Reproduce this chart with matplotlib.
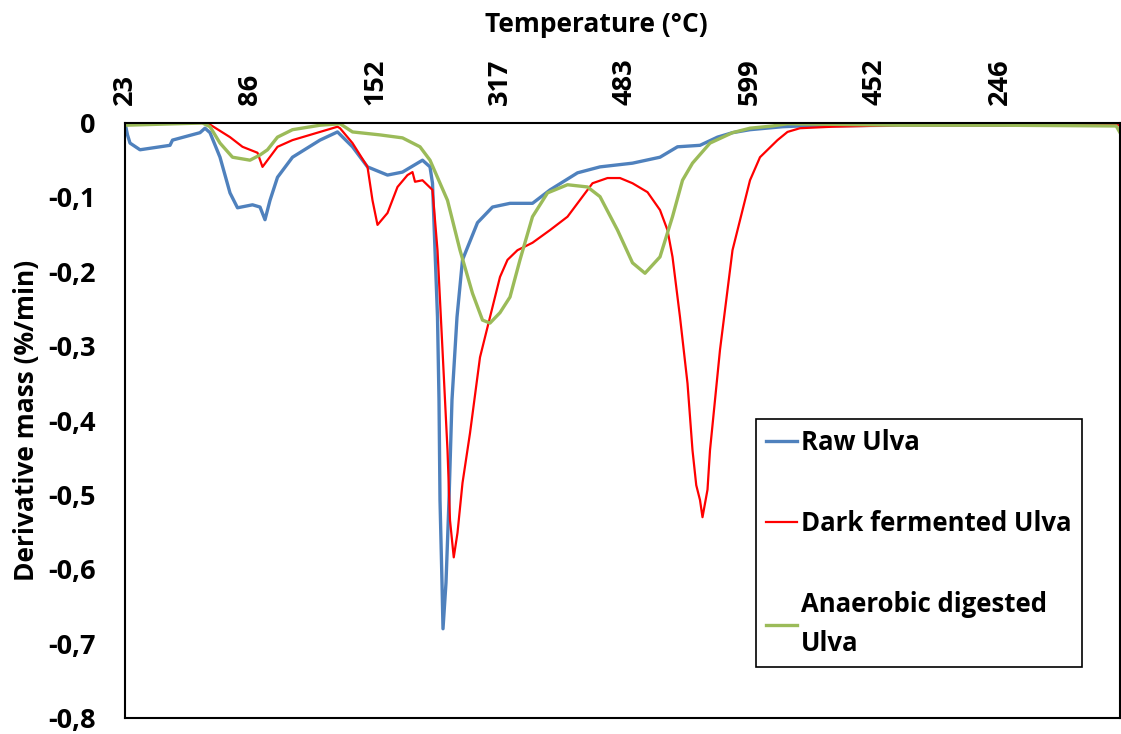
import numpy as np
import matplotlib.pyplot as plt
from matplotlib.ticker import FuncFormatter

# category axis: one reading every sample, a temperature label every 100 samples
tick_pos = [0, 100, 200, 300, 400, 500, 600, 700]
tick_labels = ['23', '86', '152', '317', '483', '599', '452', '246']

raw_x = [0, 2, 4, 12, 36, 38, 60, 64, 68, 76, 84, 90, 102, 108, 112, 116, 122, 134,
         156, 170, 182, 194, 210, 222, 238, 244, 246, 250, 251.2, 252, 253.6, 254.4,
         256.8, 259.2, 261.6, 265.6, 270, 282, 294, 308, 326, 340, 362, 380, 406, 428,
         442, 460, 474, 486, 500, 526, 540, 620, 700, 796]
raw_y = [0, -0.016, -0.027, -0.036, -0.030, -0.023, -0.013, -0.007, -0.013, -0.046,
         -0.094, -0.114, -0.110, -0.113, -0.130, -0.104, -0.073, -0.046, -0.023, -0.012,
         -0.032, -0.059, -0.070, -0.066, -0.050, -0.059, -0.081, -0.261, -0.372, -0.507,
         -0.618, -0.680, -0.618, -0.507, -0.372, -0.261, -0.184, -0.134, -0.113, -0.108,
         -0.108, -0.090, -0.067, -0.059, -0.054, -0.046, -0.032, -0.030, -0.019, -0.013,
         -0.009, -0.005, -0.004, -0.003, -0.003, -0.002]

dark_x = [0, 66, 84, 94, 106, 110, 114, 122, 134, 156, 170, 172, 182, 194, 198, 202,
          210, 218, 226, 230, 232, 238, 246, 250, 254, 258, 260, 263, 266, 270, 276,
          284, 292, 300, 306, 314, 326, 340, 354, 366, 374, 386, 396, 406, 418, 428,
          434, 438, 444, 450, 454, 457, 460, 462, 466, 468, 476, 486, 500, 508, 522,
          530, 540, 566, 620, 796]
dark_y = [0, 0, -0.019, -0.032, -0.040, -0.059, -0.050, -0.032, -0.023, -0.012, -0.005,
          -0.007, -0.027, -0.059, -0.104, -0.137, -0.121, -0.086, -0.070, -0.066, -0.079,
          -0.077, -0.090, -0.171, -0.305, -0.440, -0.534, -0.584, -0.551, -0.484, -0.417,
          -0.315, -0.261, -0.207, -0.184, -0.171, -0.161, -0.144, -0.126, -0.099, -0.081,
          -0.074, -0.074, -0.081, -0.093, -0.117, -0.144, -0.180, -0.261, -0.350, -0.440,
          -0.487, -0.507, -0.530, -0.493, -0.440, -0.305, -0.171, -0.077, -0.046, -0.023,
          -0.012, -0.007, -0.005, -0.003, -0.003]

ad_x = [0, 62, 68, 76, 86, 100, 108, 114, 122, 134, 156, 172, 182, 204, 222, 236, 244,
        258, 268, 278, 286, 292, 300, 308, 316, 326, 338, 354, 370, 380, 394, 406, 416,
        428, 438, 446, 454, 468, 486, 500, 518, 530, 620, 700, 793, 796]
ad_y = [-0.003, 0, -0.005, -0.027, -0.046, -0.050, -0.043, -0.036, -0.019, -0.009,
        -0.003, -0.001, -0.012, -0.016, -0.020, -0.032, -0.050, -0.104, -0.171, -0.229,
        -0.265, -0.269, -0.255, -0.234, -0.184, -0.126, -0.094, -0.083, -0.086, -0.099,
        -0.144, -0.188, -0.202, -0.180, -0.126, -0.077, -0.054, -0.027, -0.013, -0.007,
        -0.004, -0.001, -0.003, -0.003, -0.004, -0.013]

plt.rcParams['font.family'] = ['Open Sans', 'DejaVu Sans']
plt.rcParams['font.weight'] = 'bold'

fig = plt.figure(figsize=(11.21, 7.34), dpi=100)
ax = fig.add_axes([125/1121, 1-718/734, 995/1121, 595/734])

ax.plot(raw_x, raw_y, color='#4F81BD', lw=2.4, label='Raw Ulva')
ax.plot(dark_x, dark_y, color='#FF0000', lw=1.6, label='Dark fermented Ulva')
ax.plot(ad_x, ad_y, color='#9BBB59', lw=2.4, label='Anaerobic digested\nUlva')

ax.set_xlim(0, 796)
ax.set_ylim(-0.8, 0)
ax.set_yticks(np.arange(-0.8, 0.01, 0.1))
ax.yaxis.set_major_formatter(FuncFormatter(lambda v, p: ('%.1f' % v).replace('.', ',').replace('-0,0', '0')))

ax.xaxis.tick_top()
ax.set_xticks(tick_pos)
ax.set_xticklabels(tick_labels, rotation=90)
ax.tick_params(axis='x', length=0, pad=13, labelsize=19.5)
ax.tick_params(axis='y', length=0, pad=21, labelsize=19.5)
for s in ax.spines.values():
    s.set_linewidth(1.5)
    s.set_color('black')

ax.set_ylabel('Derivative mass (%/min)', fontsize=19, fontweight='bold', labelpad=6)
fig.text(596/1121, 1-25/734, 'Temperature (°C)', ha='center', va='center',
         fontsize=19, fontweight='bold')

leg = ax.legend(loc='upper left', bbox_to_anchor=(756/1121, 1-419/734),
                bbox_transform=fig.transFigure, borderaxespad=0, fancybox=False,
                edgecolor='black', framealpha=1, fontsize=18.5, handlelength=1.2,
                handletextpad=0.15, labelspacing=2.1, borderpad=0.4)
leg.get_frame().set_linewidth(1.2)
for t in leg.get_texts():
    t.set_fontweight('bold')
    t.set_linespacing(1.55)

fig.savefig('out.png', dpi=100)
